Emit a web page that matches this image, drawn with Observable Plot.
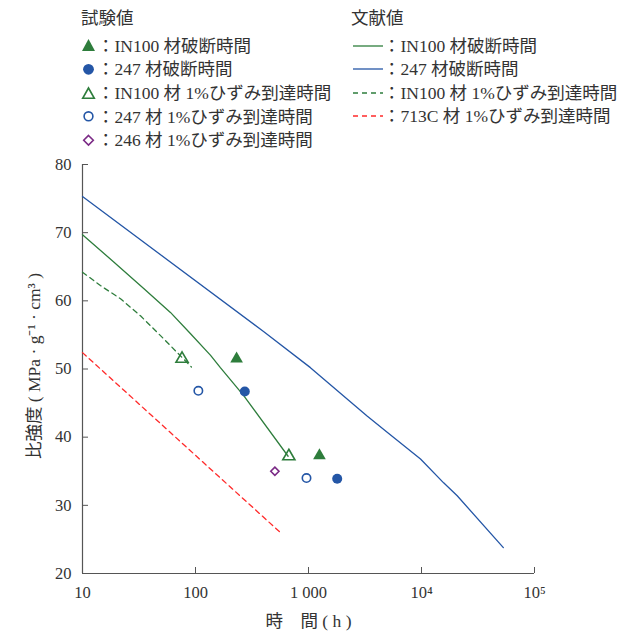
<!DOCTYPE html>
<html><head><meta charset="utf-8">
<script src="https://cdn.jsdelivr.net/npm/d3@7"></script>
<script src="https://cdn.jsdelivr.net/npm/@observablehq/plot@0.6"></script>
<style>
body{margin:0;background:#fff;font-family:"Liberation Serif","Noto Sans CJK JP",serif;color:#333;}
#legend{position:relative;width:641px;height:150px;font-size:17.5px;}
.item{position:absolute;white-space:nowrap;line-height:18px;height:18px;display:flex;align-items:center;}
.item svg{display:block;}
</style></head><body>
<div id="legend"></div>
<div id="chart"></div>
<script>
// Axis ticks
const xTicks = [10, 100, 1000, 10000, 100000];
const xTickLabels = ["10", "100", "1 000", "10⁴", "10⁵"];
const yTicks = [20, 30, 40, 50, 60, 70, 80];
const xTitle = "時　間 ( h )";
const yTitle = "比強度 ( MPa · g⁻¹ · cm³ )";

// Literature values (文献値)
const litIN100Rupture = [[10,69.7],[18.9,65.7],[34.8,61.8],[60,58.3],[90,55.2],[136,52.0],[166,50.2],[267,46.1],[660,37.2]];
const lit247Rupture = [[10,75.3],[400,55.5],[1040,50.2],[3300,43.1],[5000,40.7],[9800,36.8],[15700,33.3],[20700,31.4],[53000,23.8]];
const litIN100Strain = [[10,64.2],[14.4,62.25],[21.7,60.3],[32.6,57.8],[49,54.9],[92,50.3]];
const lit713CStrain = [[10,52.4],[565,26.0]];

// Test values (試験値)
const expIN100Rupture = [[231,51.5],[1250,37.3]];
const exp247Rupture = [[273,46.7],[1795,33.9]];
const expIN100Strain = [[76,51.5],[670,37.2]];
const exp247Strain = [[106,46.8],[960,34.0]];
const exp246Strain = [[504,35.0]];

const legendLeftTitle = "試験値";
const legendRightTitle = "文献値";
const legendLeft = [
  {label:"：IN100 材破断時間", sym:"triFill", color:"#2e7d3c"},
  {label:"：247 材破断時間", sym:"circFill", color:"#2456a6"},
  {label:"：IN100 材 1%ひずみ到達時間", sym:"triOpen", color:"#2e7d3c"},
  {label:"：247 材 1%ひずみ到達時間", sym:"circOpen", color:"#2456a6"},
  {label:"：246 材 1%ひずみ到達時間", sym:"diaOpen", color:"#7b2a86"}
];
const legendRight = [
  {label:"：IN100 材破断時間", color:"#2e7d3c", dash:null},
  {label:"：247 材破断時間", color:"#2456a6", dash:null},
  {label:"：IN100 材 1%ひずみ到達時間", color:"#2e7d3c", dash:"5,4"},
  {label:"：713C 材 1%ひずみ到達時間", color:"#ff2a2a", dash:"5,4"}
];

// ---- legend (HTML) ----
const leg = document.getElementById("legend");
function addItem(x, yc, html){
  const d = document.createElement("div");
  d.className = "item";
  d.style.left = x + "px";
  d.style.top = (yc - 9) + "px";
  d.innerHTML = html;
  leg.appendChild(d);
}
function symSvg(sym, c){
  let s = "";
  if (sym==="triFill") s = `<path d="M7.5,1 L14,13 L1,13Z" fill="${c}"/>`;
  if (sym==="triOpen") s = `<path d="M7.5,2 L13.3,12.3 L1.7,12.3Z" fill="none" stroke="${c}" stroke-width="1.6"/>`;
  if (sym==="circFill") s = `<circle cx="7.5" cy="7.3" r="5.4" fill="${c}"/>`;
  if (sym==="circOpen") s = `<circle cx="7.5" cy="7.3" r="4.4" fill="none" stroke="${c}" stroke-width="1.6"/>`;
  if (sym==="diaOpen") s = `<path d="M7.5,2.5 L12.3,7.3 L7.5,12.1 L2.7,7.3Z" fill="none" stroke="${c}" stroke-width="1.6"/>`;
  return `<svg width="16" height="15">${s}</svg>`;
}
addItem(81, 18, legendLeftTitle);
addItem(351, 18, legendRightTitle);
const rowsL = [45.5, 69, 93, 116.5, 140];
legendLeft.forEach((it,i)=> addItem(81, rowsL[i], symSvg(it.sym, it.color) + `<span>${it.label}</span>`));
const rowsR = [45.5, 69, 92.5, 116];
legendRight.forEach((it,i)=> addItem(352, rowsR[i],
  `<svg width="31" height="14"><line x1="1" x2="31" y1="7" y2="7" stroke="${it.color}" stroke-width="1.3" ${it.dash?`stroke-dasharray="${it.dash}"`:""}/></svg><span>${it.label}</span>`));

// ---- chart ----
const W = 641, H = 487, mT = 14, mB = 64, mL = 82, mR = 107;
const frameH = H - mT - mB, frameW = W - mL - mR;
const axisColor = "#555";
const chart = Plot.plot({
  width: W, height: H,
  marginTop: mT, marginBottom: mB, marginLeft: mL, marginRight: mR,
  x: {type: "log", domain: [10, 100000]},
  y: {domain: [20, 80]},
  style: {fontFamily: '"Liberation Serif","Noto Sans CJK JP",serif', fontSize: "16.5px", color: "#333", background: "#fff"},
  marks: [
    Plot.ruleY([20], {stroke: axisColor, strokeWidth: 1.2}),
    Plot.ruleX([10], {stroke: axisColor, strokeWidth: 1.2}),
    Plot.tickX(xTicks, {x: d => d, insetTop: frameH - 6, stroke: axisColor}),
    Plot.tickY(yTicks, {y: d => d, insetRight: frameW - 6, stroke: axisColor}),
    Plot.axisX({ticks: xTicks, tickSize: 0, tickPadding: 13, tickFormat: d => xTickLabels[xTicks.indexOf(d)], label: null, fill: "#333"}),
    Plot.axisY({ticks: yTicks, tickSize: 0, tickPadding: 11, label: null, fill: "#333"}),
    Plot.text([xTitle], {text: d => d, frameAnchor: "bottom", dy: 53, fontSize: 17.5, fill: "#333"}),
    Plot.text([yTitle], {text: d => d, frameAnchor: "left", textAnchor: "middle", dx: -48, dy: -3, rotate: -90, fontSize: 17.5, fill: "#333"}),
    Plot.line(lit247Rupture, {x: d => d[0], y: d => d[1], stroke: "#2456a6", strokeWidth: 1.3}),
    Plot.line(litIN100Rupture, {x: d => d[0], y: d => d[1], stroke: "#2e7d3c", strokeWidth: 1.3}),
    Plot.line(litIN100Strain, {x: d => d[0], y: d => d[1], stroke: "#2e7d3c", strokeWidth: 1.3, strokeDasharray: "5,4"}),
    Plot.line(lit713CStrain, {x: d => d[0], y: d => d[1], stroke: "#ff2a2a", strokeWidth: 1.3, strokeDasharray: "5,4"}),
    Plot.dot(expIN100Rupture, {x: d => d[0], y: d => d[1], symbol: "triangle", r: 4.7, fill: "#2e7d3c", stroke: "none"}),
    Plot.dot(exp247Rupture, {x: d => d[0], y: d => d[1], symbol: "circle", r: 5, fill: "#2456a6", stroke: "none"}),
    Plot.dot(expIN100Strain, {x: d => d[0], y: d => d[1], symbol: "triangle", r: 4.5, fill: "none", stroke: "#2e7d3c", strokeWidth: 1.6}),
    Plot.dot(exp247Strain, {x: d => d[0], y: d => d[1], symbol: "circle", r: 4.2, fill: "none", stroke: "#2456a6", strokeWidth: 1.6}),
    Plot.dot(exp246Strain, {x: d => d[0], y: d => d[1], symbol: "diamond2", r: 3.7, fill: "none", stroke: "#7b2a86", strokeWidth: 1.6})
  ]
});
document.getElementById("chart").appendChild(chart);
</script>
</body></html>
